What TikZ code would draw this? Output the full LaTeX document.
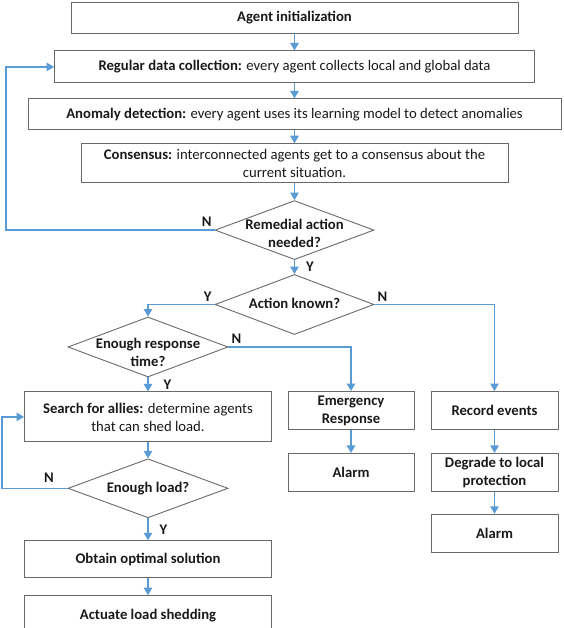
\documentclass[tikz,border=0pt]{standalone}
\usepackage{fontspec}
\setmainfont{Carlito}
\usetikzlibrary{shapes.geometric, arrows.meta, positioning}

\definecolor{flowblue}{RGB}{91,155,213}
\definecolor{edgegray}{RGB}{105,105,105}
\newcommand{\chartfont}{\fontsize{14.7}{18}\selectfont}
\newcommand{\dtext}[2][-4pt]{\makebox[0pt]{\raisebox{#1}[0pt][0pt]{\begin{tabular}{@{}c@{}}#2\end{tabular}}}}

\tikzset{
  box/.style={rectangle, draw=edgegray, line width=0.9pt, inner sep=0pt, align=center, text=black!90},
  heavy/.style={font=\chartfont\bfseries},
  dec/.style={diamond, draw=edgegray, line width=0.9pt, inner sep=0pt, minimum width=159pt, minimum height=59pt, font=\chartfont\bfseries, text=black!90},
  flow/.style={draw=flowblue, line width=1.4pt, -{Triangle[length=7.5pt, width=8.5pt]}},
  yn/.style={font=\chartfont\bfseries, text=black!90, inner sep=1pt}
}

\begin{document}
\begin{tikzpicture}[x=1pt, y=-1pt, font=\chartfont]
    \useasboundingbox (0,0) rectangle (563,628);
    \clip (0,0) rectangle (563,628);

    % main column
    \node (init) [box, heavy, minimum width=447pt, minimum height=31pt] at (294.5,17.5) {Agent initialization};
    \node (collect) [box, minimum width=480pt, minimum height=32pt, below=17pt of init] {\textbf{Regular data collection:} every agent collects local and global data};
    \node (detect) [box, minimum width=533pt, minimum height=31pt, below=15pt of collect] {\textbf{Anomaly detection:} every agent uses its learning model to detect anomalies};
    \node (consensus) [box, minimum width=427pt, minimum height=39pt, below=13pt of detect] {\textbf{Consensus:} interconnected agents get to a consensus about the\\current situation.};
    \node (remedial) [dec, below=17pt of consensus] {\dtext[-8pt]{Remedial action\\needed?}};
    \node (known) [dec, minimum height=60pt, below=14pt of remedial] {\dtext{Action known?}};

    % load shedding branch
    \node (resptime) [dec, minimum width=160pt, minimum height=60pt] at (148,347) {\dtext[-10pt]{Enough response\\time?}};
    \node (search) [box, minimum width=247pt, minimum height=50pt, below=14pt of resptime] {\textbf{Search for allies:} determine agents\\that can shed load.};
    \node (enough) [dec, minimum width=160pt, below=16pt of search] {\dtext{Enough load?}};
    \node (optimal) [box, heavy, minimum width=247pt, minimum height=37pt, below=22pt of enough] {Obtain optimal solution};
    \node (actuate) [box, heavy, minimum width=247pt, minimum height=40pt, below=17pt of optimal] {Actuate load shedding};

    % emergency and fallback branches
    \node (emergency) [box, heavy, minimum width=126pt, minimum height=38pt, anchor=north] at (351,391) {Emergency\\Response};
    \node (alarmA) [box, heavy, minimum width=126pt, minimum height=38pt, below=23pt of emergency] {Alarm};
    \node (record) [box, heavy, minimum width=127pt, minimum height=38pt, anchor=north] at (494.5,391) {Record events};
    \node (degrade) [box, heavy, minimum width=127pt, minimum height=38pt, below=23pt of record] {Degrade to local\\protection};
    \node (alarmB) [box, heavy, minimum width=127pt, minimum height=38pt, below=22pt of degrade] {Alarm};

    \coordinate (backA) at (6,0);
    \coordinate (backB) at (2,0);

    \draw[flow] (init.south) -- (collect.north);
    \draw[flow] (collect.south) -- (detect.north);
    \draw[flow] (detect.south) -- (consensus.north);
    \draw[flow] (consensus.south) -- (remedial.north);
    \draw[flow] (remedial.west) node (noAction) [yn, above left=2pt] {N}
        -- (remedial.west -| backA) |- (collect.west);
    \draw[flow] (remedial.south) -- (known.north) node (yesAction) [yn, midway, right=10pt] {Y};
    \draw[flow] (known.west) node (yesKnown) [yn, above left=2pt] {Y} -| (resptime.north);
    \draw[flow] (known.east) node (noKnown) [yn, above right=2pt] {N} -| (record.north);
    \draw[flow] (resptime.east) node (noTime) [yn, above right=2pt] {N} -| (emergency.north);
    \draw[flow] (resptime.south) -- (search.north) node (yesTime) [yn, midway, right=14pt] {Y};
    \draw[flow] (search.south) -- (enough.north);
    \draw[flow] (enough.west) node (noLoad) [yn, above left=4pt and 12pt] {N}
        -- (enough.west -| backB) |- (search.west);
    \draw[flow] (enough.south) -- (optimal.north) node (yesLoad) [yn, midway, right=10pt] {Y};
    \draw[flow] (optimal.south) -- (actuate.north);
    \draw[flow] (emergency.south) -- (alarmA.north);
    \draw[flow] (record.south) -- (degrade.north);
    \draw[flow] (degrade.south) -- (alarmB.north);
\end{tikzpicture}
\end{document}
